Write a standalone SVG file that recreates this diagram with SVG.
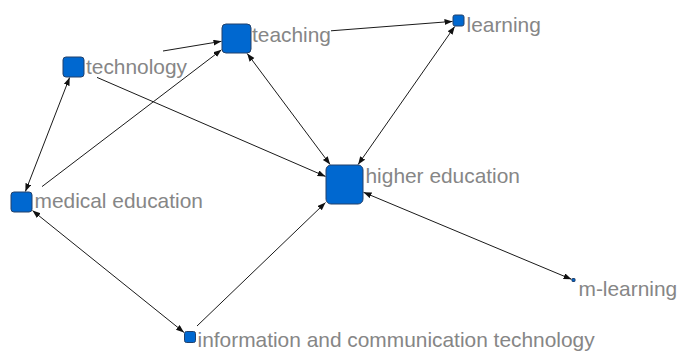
<svg xmlns="http://www.w3.org/2000/svg" width="678" height="352" viewBox="0 0 678 352">
<style>
.bg{fill:#ffffff}
.edge{stroke:#1a1a1a;stroke-width:1;fill:none}
.node{fill:#0068d0;stroke:#23416b;stroke-width:1}
.lbl{font-family:"Liberation Sans",Arial,sans-serif;font-size:20.9px;fill:#868686}
</style>
<defs>
<marker id="ah" markerUnits="userSpaceOnUse" markerWidth="9" markerHeight="7" refX="8" refY="3" orient="auto-start-reverse">
<path d="M0,0 L8,3 L0,6 z" fill="#111111"/>
</marker>
</defs>
<rect class="bg" x="0" y="0" width="678" height="352"/>
<g id="connectors">
<line class="edge" x1="163" y1="51" x2="221.5" y2="41.3" marker-end="url(#ah)"/>
<line class="edge" x1="42" y1="186.6" x2="221.5" y2="49.8" marker-end="url(#ah)"/>
<line class="edge" x1="69.6" y1="77.5" x2="25.4" y2="191.5" marker-start="url(#ah)" marker-end="url(#ah)"/>
<line class="edge" x1="97" y1="77.4" x2="325.5" y2="176.4" marker-end="url(#ah)"/>
<line class="edge" x1="247.2" y1="53.5" x2="330.1" y2="164.5" marker-start="url(#ah)" marker-end="url(#ah)"/>
<line class="edge" x1="331" y1="30.8" x2="452.5" y2="21.4" marker-end="url(#ah)"/>
<line class="edge" x1="454.7" y1="26.5" x2="358.1" y2="164.5" marker-start="url(#ah)" marker-end="url(#ah)"/>
<line class="edge" x1="363.5" y1="192.3" x2="571.5" y2="279.3" marker-start="url(#ah)" marker-end="url(#ah)"/>
<line class="edge" x1="32.5" y1="210.6" x2="184" y2="332.4" marker-start="url(#ah)" marker-end="url(#ah)"/>
<line class="edge" x1="197" y1="326" x2="325.5" y2="202.6" marker-end="url(#ah)"/>
</g>
<g id="node-teaching">
<rect class="node" x="222" y="24" width="29" height="29" rx="4"/>
<text class="lbl" x="252" y="42">teaching</text>
</g>
<g id="node-technology">
<rect class="node" x="63" y="57" width="21" height="20" rx="3"/>
<text class="lbl" x="86" y="74">technology</text>
</g>
<g id="node-learning">
<rect class="node" x="453" y="15" width="11" height="11" rx="2"/>
<text class="lbl" x="466.5" y="31.5">learning</text>
</g>
<g id="node-higher-education">
<rect class="node" x="326" y="165" width="37" height="39" rx="5"/>
<text class="lbl" x="365.5" y="182.5">higher education</text>
</g>
<g id="node-medical-education">
<rect class="node" x="11" y="192" width="21" height="20" rx="3"/>
<text class="lbl" x="34.5" y="208.3">medical education</text>
</g>
<g id="node-ict">
<rect class="node" x="184.5" y="331.5" width="11" height="11" rx="2"/>
<text class="lbl" x="197.5" y="347">information and communication technology</text>
</g>
<g id="node-m-learning">
<rect class="node" x="572" y="278.5" width="3" height="3" rx="0.5"/>
<text class="lbl" x="578.5" y="295.7">m-learning</text>
</g>
</svg>
